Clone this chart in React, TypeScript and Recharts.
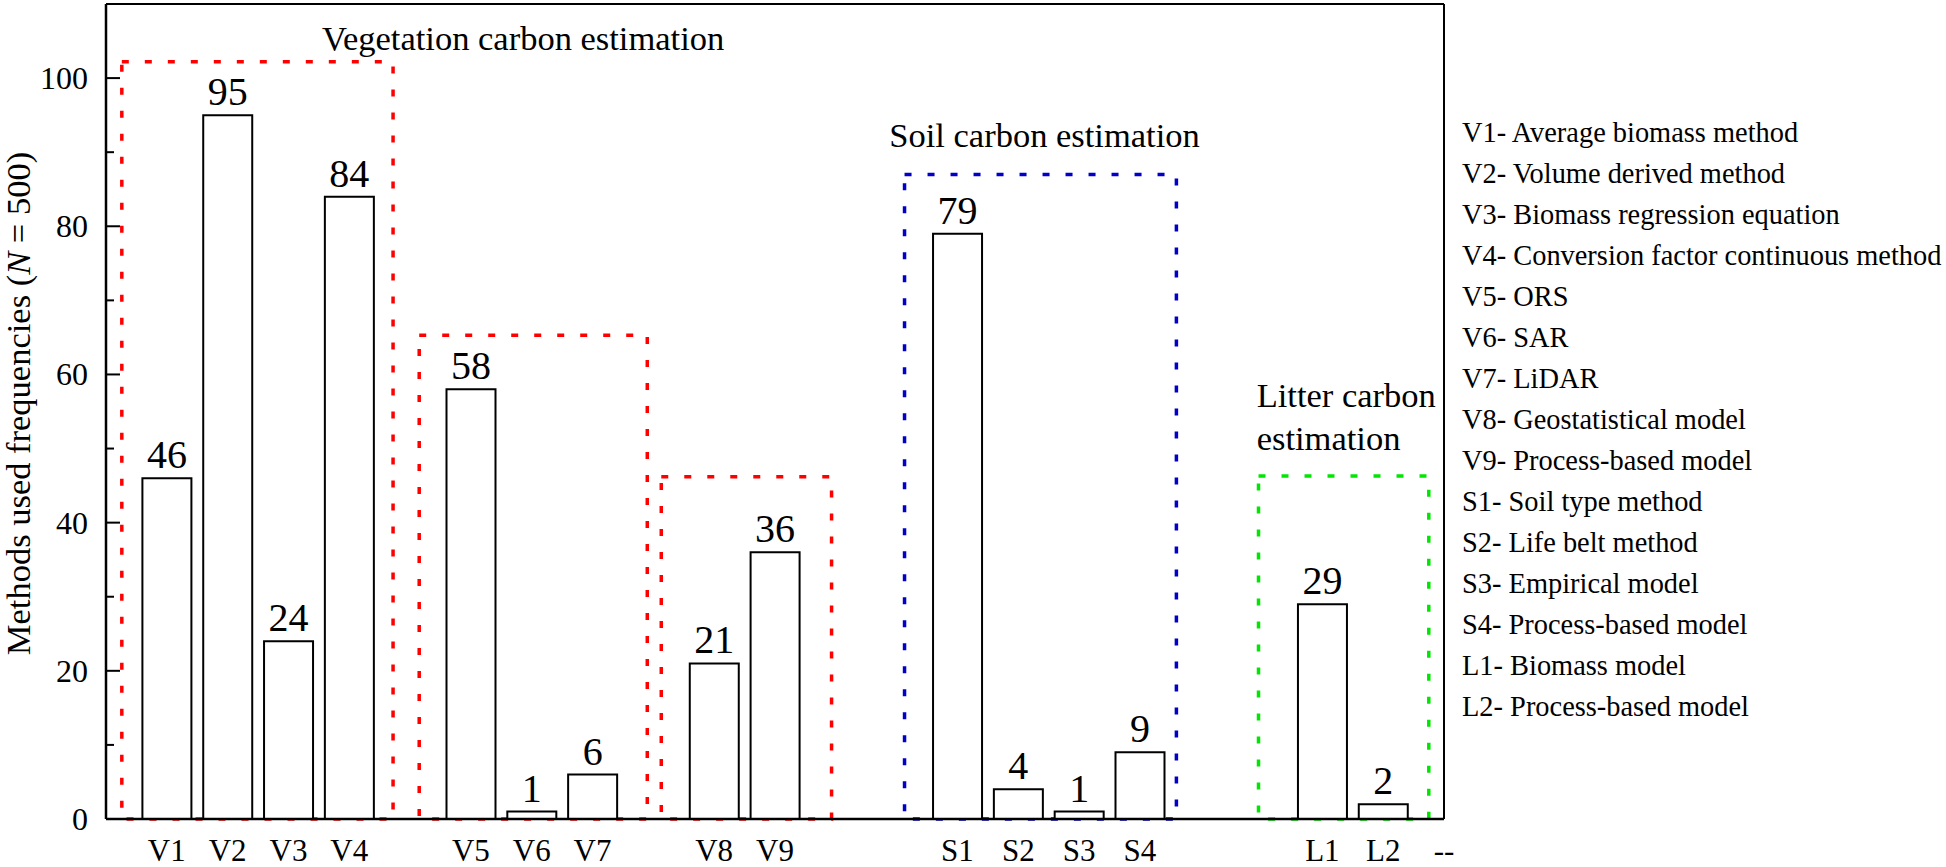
import React from 'react';
import {
  ComposedChart, Bar, XAxis, YAxis, LabelList,
  ReferenceArea, ReferenceLine, ReferenceDot
} from 'recharts';

const FONT = '"Liberation Serif", "Times New Roman", serif';

// one slot per x position, blanks are the gaps between method groups
const CATEGORIES = ['V1', 'V2', 'V3', 'V4', '', 'V5', 'V6', 'V7', '', 'V8', 'V9', '', '', 'S1', 'S2', 'S3', 'S4', '', '', 'L1', 'L2', '--'];
const FREQUENCIES = [46, 95, 24, 84, null, 58, 1, 6, null, 21, 36, null, null, 79, 4, 1, 9, null, null, 29, 2, null];

const Y_TICKS = [0, 10, 20, 30, 40, 50, 60, 70, 80, 90, 100];

const METHOD_NAMES = [
  'V1- Average biomass method',
  'V2- Volume derived method',
  'V3- Biomass regression equation',
  'V4- Conversion factor continuous method',
  'V5- ORS',
  'V6- SAR',
  'V7- LiDAR',
  'V8- Geostatistical model',
  'V9- Process-based model',
  'S1- Soil type method',
  'S2- Life belt method',
  'S3- Empirical model',
  'S4- Process-based model',
  'L1- Biomass model',
  'L2- Process-based model',
];

// dotted group frames, in axis units
const GROUP_BOXES = [
  { x1: -0.74, x2: 3.72, top: 102.2, color: '#ff0000' },
  { x1: 4.15, x2: 7.9, top: 65.3, color: '#ff0000' },
  { x1: 8.13, x2: 10.93, top: 46.2, color: '#ff0000' },
  { x1: 12.13, x2: 16.6, top: 87.0, color: '#0000c8' },
  { x1: 17.95, x2: 20.75, top: 46.3, color: '#00e600' },
];

const GROUP_TITLES = [
  { x: 2.55, y: 103.8, lines: ['Vegetation carbon estimation'] },
  { x: 11.88, y: 90.7, lines: ['Soil carbon estimation'] },
  { x: 17.92, y: 55.6, lines: ['Litter carbon', 'estimation'] },
];

const data = CATEGORIES.map((name, i) => ({ pos: i, name, value: FREQUENCIES[i] }));
const xTicks = CATEGORIES.map((c, i) => (c ? i : -99)).filter(i => i >= 0);

const TICK_MARGIN = 18;

const YTick = (props: any) => {
  const { x, y, payload } = props;
  const axisX = x + TICK_MARGIN;
  const major = payload.value % 20 === 0;
  return (
    <g>
      <line x1={axisX} x2={axisX + (major ? 14 : 8)} y1={y} y2={y} stroke="#000" strokeWidth={2} />
      {major && (
        <text x={x} y={y} textAnchor="end" dominantBaseline="central" fontSize={32} fontFamily={FONT} fill="#000">
          {payload.value}
        </text>
      )}
    </g>
  );
};

const YLabel = (props: any) => {
  const vb = props.viewBox;
  const cx = vb.x + 18;
  const cy = vb.y + vb.height / 2 - 8;
  return (
    <text x={cx} y={cy} transform={`rotate(-90, ${cx}, ${cy})`} textAnchor="middle" dominantBaseline="central"
      fontSize={34.5} fontFamily={FONT} fill="#000">
      Methods used frequencies (<tspan fontStyle="italic">N</tspan> = 500)
    </text>
  );
};

const titleShape = (lines: string[]) => (props: any) => (
  <text x={props.cx} y={props.cy} fontSize={34.5} fontFamily={FONT} fill="#000">
    {lines.map((l, i) => (
      <tspan key={i} x={props.cx} dy={i === 0 ? 0 : 43}>{l}</tspan>
    ))}
  </text>
);

export default function App() {
  return (
    <div style={{ position: 'absolute', left: 0, top: 0, width: 1946, height: 867, background: '#fff' }}>
      <ComposedChart width={1460} height={867} data={data} margin={{ top: 4, right: 16, bottom: 0, left: 0 }}>
        <XAxis
          dataKey="pos"
          type="number"
          domain={[-1, 21]}
          ticks={xTicks}
          interval={0}
          tickFormatter={(v: number) => CATEGORIES[v]}
          height={48}
          tickLine={false}
          tickSize={0}
          tickMargin={20}
          axisLine={{ stroke: '#000', strokeWidth: 2.5 }}
          tick={{ fill: '#000', fontSize: 31, fontFamily: FONT }}
        />
        <YAxis
          type="number"
          domain={[0, 110]}
          ticks={Y_TICKS}
          interval={0}
          width={106}
          tickLine={false}
          tickSize={0}
          tickMargin={TICK_MARGIN}
          axisLine={{ stroke: '#000', strokeWidth: 2.5 }}
          tick={<YTick />}
          label={{ content: <YLabel /> }}
        />
        <ReferenceLine y={110} stroke="#000" strokeWidth={2} />
        <ReferenceLine x={21} stroke="#000" strokeWidth={2} />
        <Bar dataKey="value" barSize={49} fill="#fff" stroke="#000" strokeWidth={2} isAnimationActive={false}>
          <LabelList dataKey="value" position="top" offset={10} fill="#000" fontSize={40} fontFamily={FONT} />
        </Bar>
        {GROUP_BOXES.map((b, i) => (
          <ReferenceArea
            key={i}
            x1={b.x1}
            x2={b.x2}
            y1={0}
            y2={b.top}
            fill="none"
            fillOpacity={0}
            stroke={b.color}
            strokeWidth={3.5}
            strokeDasharray="7 16"
            ifOverflow="visible"
          />
        ))}
        {GROUP_TITLES.map((t, i) => (
          <ReferenceDot key={i} x={t.x} y={t.y} r={0} ifOverflow="visible" shape={titleShape(t.lines)} />
        ))}
      </ComposedChart>
      <div style={{ position: 'absolute', left: 1462, top: 112, fontFamily: FONT, fontSize: 28.4, lineHeight: '41px', color: '#000', whiteSpace: 'nowrap' }}>
        {METHOD_NAMES.map(m => <div key={m}>{m}</div>)}
      </div>
    </div>
  );
}
